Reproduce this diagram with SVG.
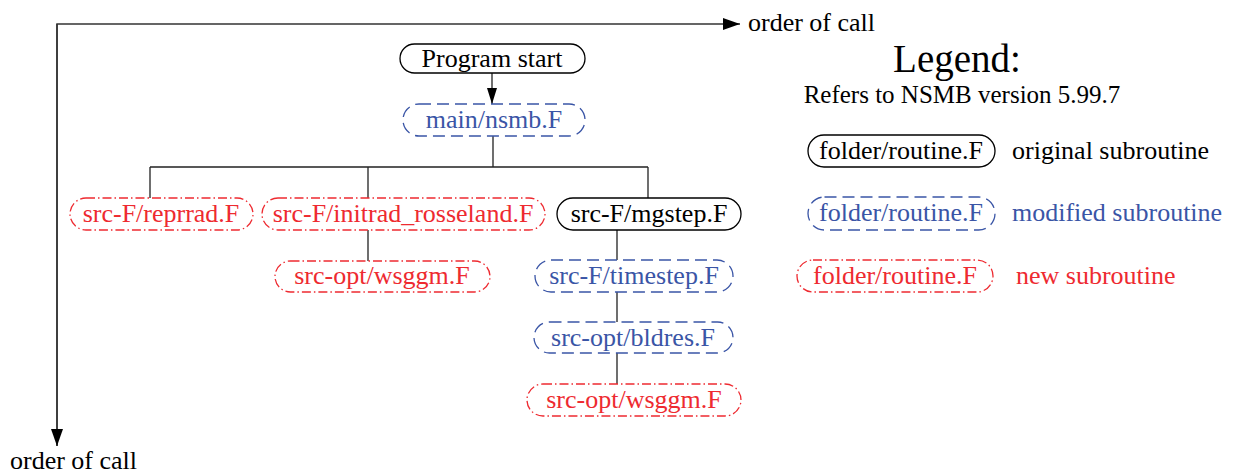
<svg xmlns="http://www.w3.org/2000/svg" width="1234" height="473" viewBox="0 0 1234 473">
<defs>
<marker id="ah" viewBox="0 0 17 12" refX="17" refY="6" markerWidth="17" markerHeight="12" markerUnits="userSpaceOnUse" orient="auto">
<path d="M0,0 L17,6 L0,12 Z" fill="#000"/>
</marker>
<marker id="ahs" viewBox="0 0 16 10" refX="16" refY="5" markerWidth="16" markerHeight="10" markerUnits="userSpaceOnUse" orient="auto">
<path d="M0,0 L16,5 L0,10 Z" fill="#000"/>
</marker>
</defs>
<style>
text{font-family:"Liberation Serif","Times New Roman",serif;font-size:26px;text-anchor:middle}
.orig{fill:#fff;stroke:#000;stroke-width:1.3}
.mod{fill:#fff;stroke:#3a55a6;stroke-width:1.3;stroke-dasharray:12 6}
.new{fill:#fff;stroke:#ee2a30;stroke-width:1.3;stroke-dasharray:9 3 1.5 3}
.to{fill:#000}
.tm{fill:#3a55a6}
.tn{fill:#ee2a30}
.ln{stroke:#222;stroke-width:1.3;fill:none}
.ax{stroke:#333;stroke-width:1.5;fill:none}
</style>
<g id="axes">
<path class="ax" d="M57,446 L57,24 L740,24" marker-end="url(#ah)"/>
<path class="ax" d="M57,24 L57,446" marker-end="url(#ah)"/>
<text x="748" y="31" style="text-anchor:start">order of call</text>
<text x="10" y="469" style="text-anchor:start">order of call</text>
</g>
<g id="connectors">
<line class="ln" x1="492" y1="73" x2="492" y2="104" marker-end="url(#ahs)"/>
<path class="ln" d="M493,136 V167 M150,167 H648 M150,167 V198 M368,167 V198 M648,167 V198 M368,230 V261 M617,230 V260 M617,292 V322 M617,353 V384"/>
</g>
<g id="n-start"><rect class="orig" x="400" y="44" width="185" height="29" rx="14.5"/><text class="to" x="492" y="67">Program start</text></g>
<g id="n-main"><rect class="mod" x="403" y="104" width="182" height="32" rx="16"/><text class="tm" x="494" y="128">main/nsmb.F</text></g>
<g id="n-reprrad"><rect class="new" x="70" y="198" width="183" height="32" rx="16"/><text class="tn" x="161" y="222">src-F/reprrad.F</text></g>
<g id="n-initrad"><rect class="new" x="262" y="198" width="283" height="32" rx="16"/><text class="tn" x="403" y="222">src-F/initrad_rosseland.F</text></g>
<g id="n-mgstep"><rect class="orig" x="557" y="198" width="184" height="32" rx="16"/><text class="to" x="649" y="222">src-F/mgstep.F</text></g>
<g id="n-wsggm1"><rect class="new" x="275" y="261" width="215" height="31" rx="15.5"/><text class="tn" x="382" y="284">src-opt/wsggm.F</text></g>
<g id="n-timestep"><rect class="mod" x="535" y="260" width="198" height="32" rx="16"/><text class="tm" x="634" y="284">src-F/timestep.F</text></g>
<g id="n-bldres"><rect class="mod" x="534" y="322" width="199" height="31" rx="15.5"/><text class="tm" x="633" y="346">src-opt/bldres.F</text></g>
<g id="n-wsggm2"><rect class="new" x="527" y="384" width="214" height="32" rx="16"/><text class="tn" x="634" y="408">src-opt/wsggm.F</text></g>
<g id="legend">
<text x="957" y="72" style="font-size:39px">Legend:</text>
<text x="962" y="103" style="font-size:25px">Refers to NSMB version 5.99.7</text>
<rect class="orig" x="808" y="135" width="187" height="32" rx="16"/><text class="to" x="901" y="159">folder/routine.F</text>
<text class="to" x="1012" y="159" style="text-anchor:start">original subroutine</text>
<rect class="mod" x="808" y="197" width="187" height="33" rx="16.5"/><text class="tm" x="901" y="221">folder/routine.F</text>
<text class="tm" x="1012" y="221" style="text-anchor:start">modified subroutine</text>
<rect class="new" x="797" y="260" width="196" height="32" rx="16"/><text class="tn" x="895" y="284">folder/routine.F</text>
<text class="tn" x="1016" y="284" style="text-anchor:start">new subroutine</text>
</g>
</svg>
